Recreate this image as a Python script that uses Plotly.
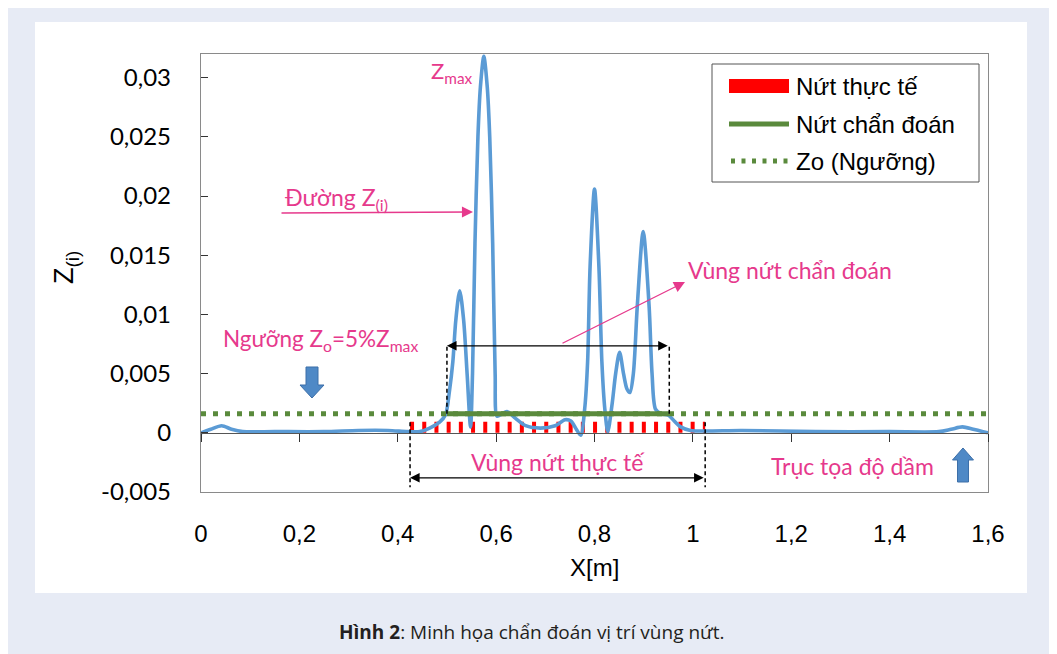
import plotly.graph_objects as go

# ---------------- data ----------------
x_pos = [0.000, 0.020, 0.042, 0.062, 0.085, 0.150, 0.250, 0.320, 0.380, 0.420,
         0.445, 0.465, 0.485, 0.497, 0.505, 0.512, 0.518, 0.526, 0.534, 0.541,
         0.548, 0.552, 0.557, 0.563, 0.568, 0.575, 0.582, 0.587, 0.593, 0.598,
         0.602, 0.612, 0.622, 0.640, 0.660, 0.690, 0.720, 0.740, 0.752, 0.763,
         0.772, 0.780, 0.786, 0.791, 0.800, 0.809, 0.815, 0.821, 0.827, 0.836,
         0.843, 0.851, 0.859, 0.866, 0.872, 0.879, 0.887, 0.899, 0.911, 0.917,
         0.924, 0.935, 0.950, 0.962, 0.975, 0.995, 1.100, 1.250, 1.400, 1.500,
         1.525, 1.548, 1.570, 1.590, 1.600]
z_val = [0.0000, 0.0003, 0.0006, 0.0003, 0.0001, 0.0001, 0.0001, 0.0002, 0.0002, 0.0001,
         0.0001, 0.0004, 0.0009, 0.0015, 0.0035, 0.0060, 0.0095, 0.0120, 0.0095, 0.0050,
         0.0005, 0.0050, 0.0160, 0.0250, 0.0292, 0.0318, 0.0292, 0.0250, 0.0160, 0.0050,
         0.0014, 0.0016, 0.0018, 0.0012, 0.0006, 0.0004, 0.0006, 0.0011, 0.0010, 0.0003,
         -0.0002, 0.0020, 0.0060, 0.0140, 0.0206, 0.0140, 0.0060, 0.0020, 0.0001, 0.0025,
         0.0050, 0.0068, 0.0050, 0.0037, 0.0034, 0.0050, 0.0107, 0.0170, 0.0107, 0.0050,
         0.0020, 0.0016, 0.0015, 0.0010, 0.0005, 0.0002, 0.0002, 0.0001, 0.0001, 0.0001,
         0.0003, 0.0005, 0.0003, 0.0001, 0.0000]

actual_crack = [0.425, 1.025]      # Nứt thực tế
diag_crack = [0.500, 0.952]        # Nứt chẩn đoán
z_threshold = 0.0016               # Zo (Ngưỡng) = 5% Zmax
beam_range = [0.0, 1.6]

x_ticks = [0, 0.2, 0.4, 0.6, 0.8, 1.0, 1.2, 1.4, 1.6]
x_ticktext = ["0", "0,2", "0,4", "0,6", "0,8", "1", "1,2", "1,4", "1,6"]
y_ticks = [-0.005, 0, 0.005, 0.01, 0.015, 0.02, 0.025, 0.03]
y_ticktext = ["-0,005", "0", "0,005", "0,01", "0,015", "0,02", "0,025", "0,03"]

legend_labels = ["Nứt thực tế", "Nứt chẩn đoán", "Zo (Ngưỡng)"]

# ---------------- layout geometry (page pixels) ----------------
W, H = 1057, 654
OFF = 8                      # page body margin
PL, PR, PT, PB = 201, 988, 54, 492
Y0, Y1 = -0.005, 0.032


def pp(px, py):
    return (px - PL) / (PR - PL), (PB - py) / (PB - PT)


PINK = "#e6398c"
BLUE = "#5b9bd5"
GREEN = "#5a8a3c"
RED = "#ff0000"
FRAME = "#8a8a8a"
BG = "#e7ebf5"

fig = go.Figure()

# actual crack (red dashes)
fig.add_trace(go.Scatter(x=actual_crack, y=[0.00047, 0.00047], xaxis="x2", mode="lines",
                         line=dict(color=RED, width=11, dash="4px,8.2px"),
                         showlegend=False, hoverinfo="skip"))
# Z(i) curve
fig.add_trace(go.Scatter(x=x_pos, y=z_val, xaxis="x2", mode="lines",
                         line=dict(color=BLUE, width=3.6, shape="spline", smoothing=0.8),
                         showlegend=False))
# diagnosed crack (green solid)
fig.add_trace(go.Scatter(x=diag_crack, y=[z_threshold, z_threshold], xaxis="x2", mode="lines",
                         line=dict(color=GREEN, width=5), showlegend=False))
# threshold (green dotted)
fig.add_trace(go.Scatter(x=beam_range, y=[z_threshold, z_threshold], xaxis="x2", mode="lines",
                         line=dict(color=GREEN, width=5, dash="5px,7px"), showlegend=False))

shapes = []
annotations = []

# white panel
wx0, wy0 = pp(35, 22)
wx1, wy1 = pp(1027, 593)
shapes.append(dict(type="rect", xref="paper", yref="paper", x0=wx0, y0=wy0, x1=wx1, y1=wy1,
                   fillcolor="white", line=dict(width=0), layer="below"))

# dashed guides for diagnosed region
y_arrow_top = 0.00735
for xv in diag_crack:
    shapes.append(dict(type="line", xref="x", yref="y", x0=xv, x1=xv, y0=z_threshold, y1=y_arrow_top,
                       line=dict(color="black", width=1.5, dash="4px,3px")))
annotations.append(dict(xref="x", yref="y", axref="x", ayref="y", x=diag_crack[0], y=y_arrow_top,
                        ax=diag_crack[1], ay=y_arrow_top, text="", showarrow=True,
                        arrowhead=2, startarrowhead=2, arrowside="end+start",
                        arrowsize=1.6, arrowwidth=1.2, arrowcolor="black", startarrowsize=1.6))
# dashed guides for actual region
for xv in actual_crack:
    shapes.append(dict(type="line", xref="x", yref="y", x0=xv, x1=xv, y0=0.0009, y1=-0.0046,
                       line=dict(color="black", width=1.5, dash="4px,3px")))
annotations.append(dict(xref="x", yref="y", axref="x", ayref="y", x=actual_crack[0], y=-0.0038,
                        ax=actual_crack[1], ay=-0.0038, text="", showarrow=True,
                        arrowhead=2, startarrowhead=2, arrowside="end+start",
                        arrowsize=1.6, arrowwidth=1.2, arrowcolor="black", startarrowsize=1.6))


def txt(px, py, text, size, color=PINK, family="Lato", xanchor="center", angle=0):
    x, y = pp(px, py)
    annotations.append(dict(xref="paper", yref="paper", x=x, y=y, text=text, showarrow=False,
                            xanchor=xanchor, yanchor="middle", textangle=angle,
                            font=dict(family=family, size=size, color=color)))


def arrow(px0, py0, px1, py1, color=PINK, width=1.3):
    x, y = pp(px1, py1)
    annotations.append(dict(xref="paper", yref="paper", axref="pixel", ayref="pixel",
                            x=x, y=y, ax=px0 - px1, ay=py0 - py1, text="", showarrow=True,
                            arrowhead=2, arrowsize=1.7, arrowwidth=width, arrowcolor=color))


# pink annotations
txt(452, 72, "Z<sub>max</sub>", 22)
txt(336, 198, "Đường Z<sub>(i)</sub>", 23)
arrow(280, 213, 473, 212)
txt(790, 270, "Vùng nứt chẩn đoán", 23)
arrow(561, 344, 685, 282)
txt(320, 340, "Ngưỡng Z<sub>o</sub>=5%Z<sub>max</sub>", 22.5)
txt(558, 462, "Vùng nứt thực tế", 23)
txt(852, 466, "Trục tọa độ dầm", 23)


def block_arrow(cx, tip_y, base_y, shaft_w, head_w, head_len):
    d = 1 if base_y > tip_y else -1
    neck = tip_y + d * head_len
    pts = [(cx - shaft_w / 2, base_y), (cx - shaft_w / 2, neck), (cx - head_w / 2, neck),
           (cx, tip_y), (cx + head_w / 2, neck), (cx + shaft_w / 2, neck),
           (cx + shaft_w / 2, base_y)]
    path = "M " + " L ".join("%.5f,%.5f" % pp(a, b) for a, b in pts) + " Z"
    shapes.append(dict(type="path", xref="paper", yref="paper", path=path,
                       fillcolor="#4f89c6", line=dict(color="#3d6fa8", width=1)))


block_arrow(312, 398, 367, 12, 24, 13)
block_arrow(963, 448, 482, 11, 21, 12)

# axis titles
txt(66, 268, "Z<sub>(i)</sub>", 27, color="black", family="Liberation Sans", angle=-90)
txt(594, 567, "X[m]", 24, color="black", family="Liberation Sans")

# caption
txt(531, 632, "<b>Hình 2</b>: Minh họa chẩn đoán vị trí vùng nứt.", 19, color="#231f20",
    family="Open Sans")

# manual legend
lx0, ly0 = pp(712, 64)
lx1, ly1 = pp(979, 182)
shapes.append(dict(type="rect", xref="paper", yref="paper", x0=lx0, y0=ly0, x1=lx1, y1=ly1,
                   fillcolor="white", line=dict(color="#555555", width=1)))
rx0, ry0 = pp(729, 79)
rx1, ry1 = pp(789, 93)
shapes.append(dict(type="rect", xref="paper", yref="paper", x0=rx0, y0=ry0, x1=rx1, y1=ry1,
                   fillcolor=RED, line=dict(width=0)))
gx0, gy = pp(729, 124)
gx1, _ = pp(789, 124)
shapes.append(dict(type="line", xref="paper", yref="paper", x0=gx0, x1=gx1, y0=gy, y1=gy,
                   line=dict(color=GREEN, width=5)))
dx0, dy = pp(731, 161)
dx1, _ = pp(793, 161)
shapes.append(dict(type="line", xref="paper", yref="paper", x0=dx0, x1=dx1, y0=dy, y1=dy,
                   line=dict(color=GREEN, width=5, dash="4px,6.5px")))
for lab, yy in zip(legend_labels, [86, 124, 161]):
    txt(794, yy, lab, 24, color="black", family="Liberation Sans", xanchor="left")

pos0 = (0 - Y0) / (Y1 - Y0)

fig.update_layout(
    width=W - OFF, height=H - OFF,
    margin=dict(l=PL - OFF, r=W - PR, t=PT - OFF, b=H - PB, pad=0),
    paper_bgcolor=BG, plot_bgcolor="white",
    separators=", ",
    showlegend=False,
    shapes=shapes, annotations=annotations,
    xaxis=dict(range=[0, 1.6], tickvals=x_ticks, ticktext=x_ticktext, ticks="",
               showline=True, mirror=True, linecolor=FRAME, linewidth=1.3,
               showgrid=False, zeroline=False, ticklabelstandoff=20,
               tickfont=dict(family="Liberation Sans", size=24, color="black")),
    xaxis2=dict(range=[0, 1.6], overlaying="x", anchor="free", position=pos0, side="bottom",
                tickvals=x_ticks, ticks="outside", ticklen=8, tickcolor="#333333",
                showticklabels=False, showline=True, linecolor="#555555", linewidth=1.3,
                showgrid=False, zeroline=False),
    yaxis=dict(range=[Y0, Y1], tickvals=y_ticks, ticktext=y_ticktext, ticks="inside",
               ticklen=7, tickcolor="#333333", showline=True, mirror=True, linecolor=FRAME,
               linewidth=1.3, showgrid=False, zeroline=False, ticklabelstandoff=24,
               tickfont=dict(family="Lato", size=24, color="black")),
)

fig.write_html("out.html")
